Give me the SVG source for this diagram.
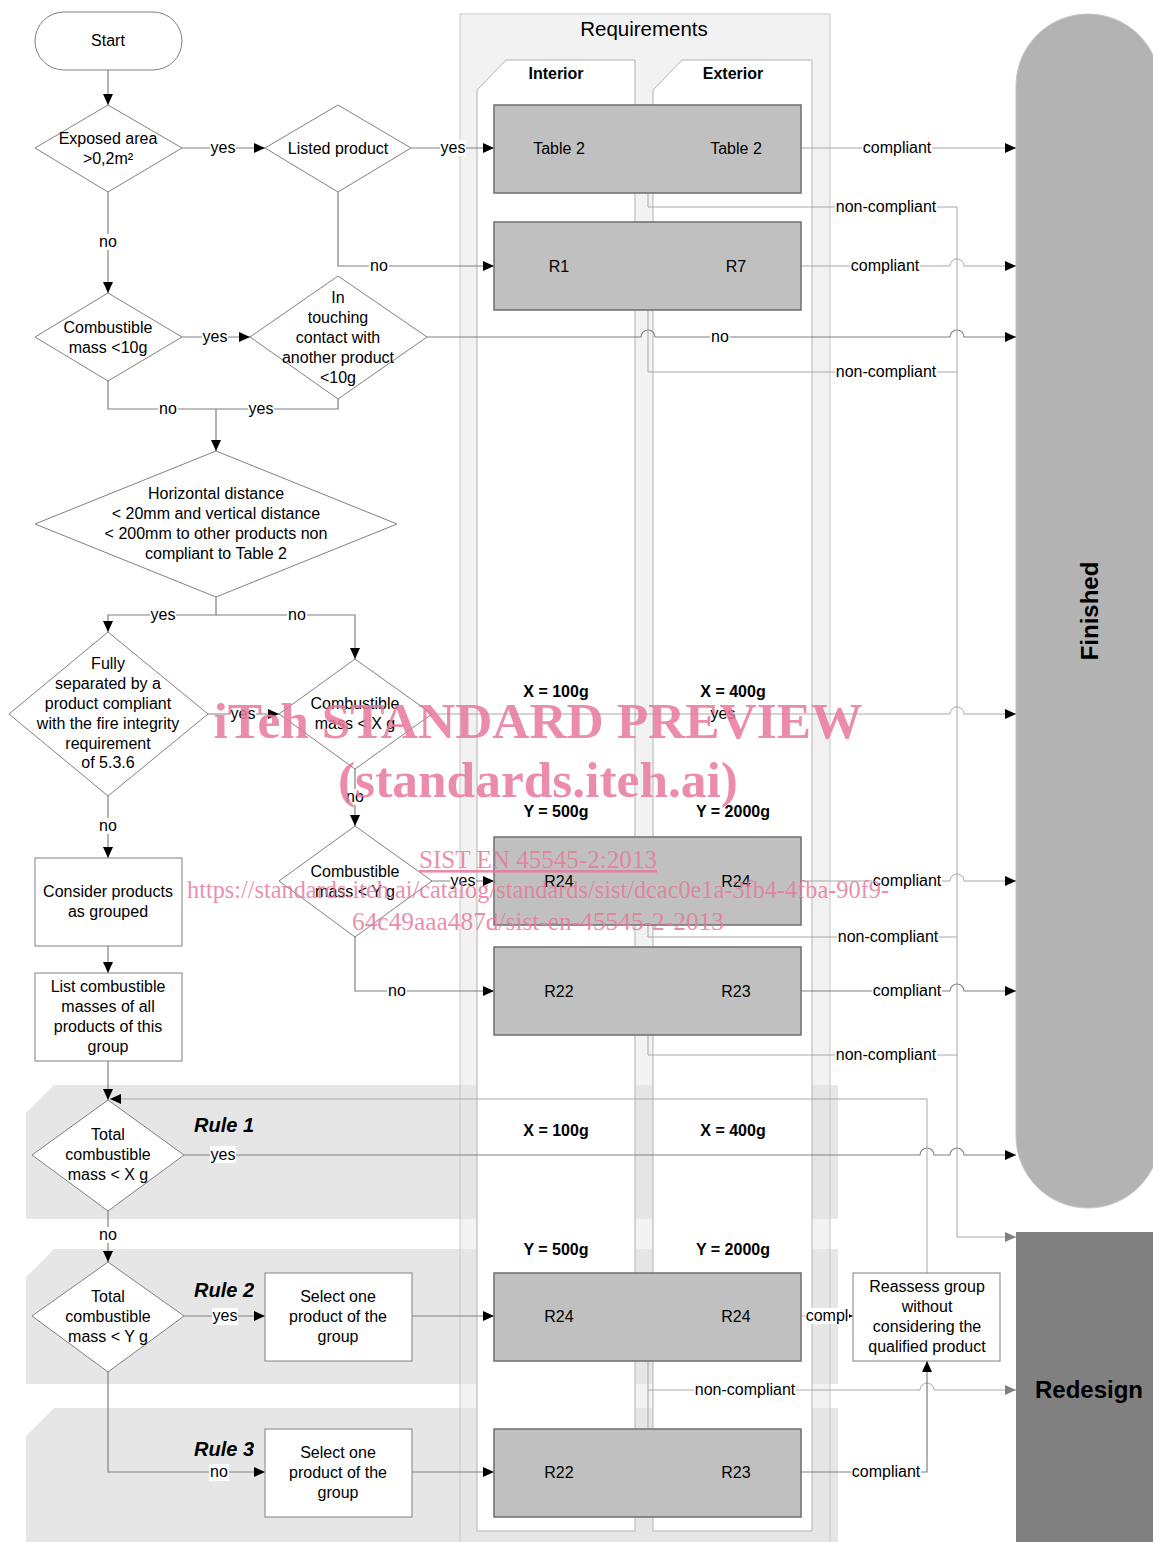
<svg xmlns="http://www.w3.org/2000/svg" width="1153" height="1542" viewBox="0 0 1153 1542">
<style>
text{font-family:"Liberation Sans",Arial,sans-serif;font-size:16px;fill:#000;text-anchor:middle}
.b{font-weight:bold}
.rule{font-weight:bold;font-style:italic;font-size:20px}
.big{font-weight:bold;font-size:24px}
.nd{fill:#fff;stroke:#808080;stroke-width:1}
.gb{fill:#c0c0c0;stroke:#6e6e6e;stroke-width:1.5}
.c{fill:none;stroke:#808080;stroke-width:1.2}
.cl{fill:none;stroke:#a8a8a8;stroke-width:1}
.lb{fill:#fff}
.wm{font-family:"Liberation Serif","Times New Roman",serif;fill:#e8799b;fill-opacity:0.85}
</style>
<defs>
<marker id="a" viewBox="0 0 11 10" refX="11" refY="5" markerWidth="11" markerHeight="10" markerUnits="userSpaceOnUse" orient="auto"><path d="M0,0L11,5L0,10z" fill="#000"/></marker>
<marker id="ag" viewBox="0 0 11 10" refX="11" refY="5" markerWidth="11" markerHeight="10" markerUnits="userSpaceOnUse" orient="auto"><path d="M0,0L11,5L0,10z" fill="#808080"/></marker>
</defs>
<rect width="1153" height="1542" fill="#fff"/>

<g id="requirements-bg">
<rect x="460" y="14" width="370" height="1540" fill="#f2f2f2"/>
</g>
<g id="rule-bands">
<path d="M26,1113L54,1085H838V1219H26Z" fill="#e6e6e6"/>
<path d="M26,1277L54,1249H838V1384H26Z" fill="#e6e6e6"/>
<path d="M26,1436L54,1408H838V1542H26Z" fill="#e6e6e6"/>
</g>
<g id="requirements">
<rect x="460" y="14" width="370" height="1540" fill="none" stroke="#c8c8c8"/>
<text x="644" y="36" style="font-size:20.5px">Requirements</text>
</g>
<g id="lane-interior">
<path d="M477,90L506,60H635V1531H477Z" fill="#fff" stroke="#b3b3b3"/>
<text class="b" x="556" y="79">Interior</text>
</g>
<g id="lane-exterior">
<path d="M653,90L682,60H812V1531H653Z" fill="#fff" stroke="#b3b3b3"/>
<text class="b" x="733" y="79">Exterior</text>
</g>
<g id="finished">
<rect x="1016" y="14" width="144" height="1194" rx="72" ry="72" fill="#b3b3b3" stroke="#c4c4c4"/>
<text class="big" transform="translate(1097.5,611) rotate(-90)">Finished</text>
</g>
<g id="redesign">
<rect x="1016" y="1232" width="144" height="320" fill="#808080"/>
<text class="big" x="1089" y="1398">Redesign</text>
</g>
<g id="rule-labels">
<text class="rule" x="224" y="1132">Rule 1</text>
<text class="rule" x="224" y="1297">Rule 2</text>
<text class="rule" x="224" y="1456">Rule 3</text>
</g>
<g id="thresholds">
<text class="b" x="556" y="697">X = 100g</text>
<text class="b" x="733" y="697">X = 400g</text>
<text class="b" x="556" y="817">Y = 500g</text>
<text class="b" x="733" y="817">Y = 2000g</text>
<text class="b" x="556" y="1136">X = 100g</text>
<text class="b" x="733" y="1136">X = 400g</text>
<text class="b" x="556" y="1255">Y = 500g</text>
<text class="b" x="733" y="1255">Y = 2000g</text>
</g>

<g id="connectors">
<path class="c" d="M108,70V105" marker-end="url(#a)"/>
<path class="c" d="M182,148H265" marker-end="url(#a)"/>
<path class="c" d="M411,148H494" marker-end="url(#a)"/>
<path class="c" d="M338,192V266H494" marker-end="url(#a)"/>
<path class="c" d="M108,192V293" marker-end="url(#a)"/>
<path class="c" d="M182,337H250" marker-end="url(#a)"/>
<path class="c" d="M427,337H641A7,7 0 0 1 655,337H950A7,7 0 0 1 964,337H1016" marker-end="url(#a)"/>
<path class="c" d="M108,381V409H338V399"/>
<path class="c" d="M216,409V451" marker-end="url(#a)"/>
<path class="c" d="M216,597V615H108V632" marker-end="url(#a)"/>
<path class="c" d="M216,615H355V659" marker-end="url(#a)"/>
<path class="c" d="M208,714H279" marker-end="url(#a)"/>
<path class="cl" d="M432,714H950A7,7 0 0 1 964,714H1016" marker-end="url(#a)"/>
<path class="c" d="M355,769V826" marker-end="url(#a)"/>
<path class="c" d="M432,881H494" marker-end="url(#a)"/>
<path class="c" d="M355,937V991H494" marker-end="url(#a)"/>
<path class="c" d="M108,796V858" marker-end="url(#a)"/>
<path class="c" d="M108,946V973" marker-end="url(#a)"/>
<path class="c" d="M108,1061V1100" marker-end="url(#a)"/>
<path class="c" d="M184,1155H920A7,7 0 0 1 934,1155H950A7,7 0 0 1 964,1155H1016" marker-end="url(#a)"/>
<path class="c" d="M108,1211V1262" marker-end="url(#a)"/>
<path class="c" d="M184,1316H265" marker-end="url(#a)"/>
<path class="c" d="M412,1316H494" marker-end="url(#a)"/>
<path class="c" d="M108,1372V1472H265" marker-end="url(#a)"/>
<path class="c" d="M412,1472H494" marker-end="url(#a)"/>

<path class="cl" d="M801,148H1016" marker-end="url(#a)"/>
<path class="cl" d="M648,193V207H957V1237H1016" marker-end="url(#ag)"/>
<path class="cl" d="M801,266H950A7,7 0 0 1 964,266H1016" marker-end="url(#a)"/>
<path class="cl" d="M648,310V372H957"/>
<path class="cl" d="M801,881H950A7,7 0 0 1 964,881H1016" marker-end="url(#a)"/>
<path class="cl" d="M648,925V937H957"/>
<path class="c" d="M801,991H950A7,7 0 0 1 964,991H1016" marker-end="url(#a)"/>
<path class="cl" d="M648,1035V1055H957"/>
<path class="cl" d="M801,1316H853" marker-end="url(#a)"/>
<path class="cl" d="M927,1273V1099H110" marker-end="url(#a)"/>
<path class="cl" d="M648,1361V1429M648,1390H920A7,7 0 0 1 934,1390H1016" marker-end="url(#ag)"/>
<path class="c" d="M801,1472H927V1361" marker-end="url(#a)"/>
</g>

<g id="connector-labels">
<rect class="lb" x="210" y="140" width="26" height="16"/><text x="223" y="153">yes</text>
<rect class="lb" x="440" y="140" width="26" height="16"/><text x="453" y="153">yes</text>
<rect class="lb" x="369" y="258" width="20" height="16"/><text x="379" y="271">no</text>
<rect class="lb" x="98" y="234" width="20" height="16"/><text x="108" y="247">no</text>
<rect class="lb" x="202" y="329" width="26" height="16"/><text x="215" y="342">yes</text>
<rect class="lb" x="710" y="329" width="20" height="16"/><text x="720" y="342">no</text>
<rect class="lb" x="158" y="401" width="20" height="16"/><text x="168" y="414">no</text>
<rect class="lb" x="248" y="401" width="26" height="16"/><text x="261" y="414">yes</text>
<rect class="lb" x="150" y="607" width="26" height="16"/><text x="163" y="620">yes</text>
<rect class="lb" x="287" y="607" width="20" height="16"/><text x="297" y="620">no</text>
<rect class="lb" x="230" y="706" width="26" height="16"/><text x="243" y="719">yes</text>
<text x="723" y="719">yes</text>
<rect class="lb" x="345" y="789" width="20" height="16"/><text x="355" y="802">no</text>
<rect class="lb" x="450" y="873" width="26" height="16"/><text x="463" y="886">yes</text>
<rect class="lb" x="387" y="983" width="20" height="16"/><text x="397" y="996">no</text>
<rect class="lb" x="98" y="818" width="20" height="16"/><text x="108" y="831">no</text>
<rect class="lb" x="210" y="1146" width="26" height="17"/><text x="223" y="1160">yes</text>
<rect class="lb" x="98" y="1227" width="20" height="16"/><text x="108" y="1240">no</text>
<rect class="lb" x="212" y="1308" width="26" height="17"/><text x="225" y="1321">yes</text>
<rect class="lb" x="209" y="1464" width="20" height="17"/><text x="219" y="1477">no</text>

<rect class="lb" x="862" y="140" width="70" height="16"/><text x="897" y="153">compliant</text>
<rect class="lb" x="835" y="199" width="102" height="16"/><text x="886" y="212">non-compliant</text>
<rect class="lb" x="850" y="258" width="70" height="16"/><text x="885" y="271">compliant</text>
<rect class="lb" x="835" y="364" width="102" height="16"/><text x="886" y="377">non-compliant</text>
<rect class="lb" x="872" y="873" width="70" height="16"/><text x="907" y="886">compliant</text>
<rect class="lb" x="837" y="929" width="102" height="16"/><text x="888" y="942">non-compliant</text>
<rect class="lb" x="872" y="983" width="70" height="16"/><text x="907" y="996">compliant</text>
<rect class="lb" x="835" y="1047" width="102" height="16"/><text x="886" y="1060">non-compliant</text>
<rect class="lb" x="805" y="1308" width="44" height="16"/><text x="827" y="1321">compl</text>
<rect class="lb" x="694" y="1382" width="102" height="16"/><text x="745" y="1395">non-compliant</text>
<rect class="lb" x="851" y="1464" width="70" height="16"/><text x="886" y="1477">compliant</text>
</g>

<g id="start"><rect class="nd" x="35" y="12" width="147" height="58" rx="29"/><text x="108" y="46">Start</text></g>
<g id="exposed-area"><path class="nd" d="M108,105L182,148L108,192L35,148Z"/><text x="108" y="144">Exposed area</text><text x="108" y="164">&gt;0,2m²</text></g>
<g id="listed-product"><path class="nd" d="M338,105L411,148L338,192L265,148Z"/><text x="338" y="154">Listed product</text></g>
<g id="combustible-10g"><path class="nd" d="M108,293L182,337L108,381L35,337Z"/><text x="108" y="333">Combustible</text><text x="108" y="353">mass &lt;10g</text></g>
<g id="touching-contact"><path class="nd" d="M338,276L427,337L338,399L250,337Z"/><text x="338" y="303">In</text><text x="338" y="323">touching</text><text x="338" y="343">contact with</text><text x="338" y="363">another product</text><text x="338" y="383">&lt;10g</text></g>
<g id="horizontal-distance"><path class="nd" d="M216,451L397,524L216,597L35,524Z"/><text x="216" y="499">Horizontal distance</text><text x="216" y="519">&lt; 20mm and vertical distance</text><text x="216" y="539">&lt; 200mm to other products non</text><text x="216" y="559">compliant to Table 2</text></g>
<g id="fully-separated"><path class="nd" d="M108,632L208,714L108,796L9,714Z"/><text x="108" y="669">Fully</text><text x="108" y="689">separated by a</text><text x="108" y="709">product compliant</text><text x="108" y="729">with the fire integrity</text><text x="108" y="749">requirement</text><text x="108" y="768">of 5.3.6</text></g>
<g id="combustible-x"><path class="nd" d="M355,659L432,714L355,769L279,714Z"/><text x="355" y="709">Combustible</text><text x="355" y="729">mass &lt; X g</text></g>
<g id="combustible-y"><path class="nd" d="M355,826L432,881L355,937L279,881Z"/><text x="355" y="877">Combustible</text><text x="355" y="897">mass &lt; Y g</text></g>
<g id="consider-grouped"><rect class="nd" x="35" y="858" width="147" height="88"/><text x="108" y="897">Consider products</text><text x="108" y="917">as grouped</text></g>
<g id="list-masses"><rect class="nd" x="35" y="973" width="147" height="88"/><text x="108" y="992">List combustible</text><text x="108" y="1012">masses of all</text><text x="108" y="1032">products of this</text><text x="108" y="1052">group</text></g>
<g id="total-x"><path class="nd" d="M108,1100L184,1155L108,1211L32,1155Z"/><text x="108" y="1140">Total</text><text x="108" y="1160">combustible</text><text x="108" y="1180">mass &lt; X g</text></g>
<g id="total-y"><path class="nd" d="M108,1262L184,1316L108,1372L32,1316Z"/><text x="108" y="1302">Total</text><text x="108" y="1322">combustible</text><text x="108" y="1342">mass &lt; Y g</text></g>
<g id="select-1"><rect class="nd" x="265" y="1273" width="147" height="88"/><text x="338" y="1302">Select one</text><text x="338" y="1322">product of the</text><text x="338" y="1342">group</text></g>
<g id="select-2"><rect class="nd" x="265" y="1429" width="147" height="88"/><text x="338" y="1458">Select one</text><text x="338" y="1478">product of the</text><text x="338" y="1498">group</text></g>
<g id="reassess"><rect class="nd" x="853" y="1273" width="147" height="88"/><text x="927" y="1292">Reassess group</text><text x="927" y="1312">without</text><text x="927" y="1332">considering the</text><text x="927" y="1352">qualified product</text></g>

<g id="req-table2"><rect class="gb" x="494" y="105" width="307" height="88"/><text x="559" y="154">Table 2</text><text x="736" y="154">Table 2</text></g>
<g id="req-r1-r7"><rect class="gb" x="494" y="222" width="307" height="88"/><text x="559" y="272">R1</text><text x="736" y="272">R7</text></g>
<g id="req-r24-a"><rect class="gb" x="494" y="837" width="307" height="88"/><text x="559" y="887">R24</text><text x="736" y="887">R24</text></g>
<g id="req-r22-a"><rect class="gb" x="494" y="947" width="307" height="88"/><text x="559" y="997">R22</text><text x="736" y="997">R23</text></g>
<g id="req-r24-b"><rect class="gb" x="494" y="1273" width="307" height="88"/><text x="559" y="1322">R24</text><text x="736" y="1322">R24</text></g>
<g id="req-r22-b"><rect class="gb" x="494" y="1429" width="307" height="88"/><text x="559" y="1478">R22</text><text x="736" y="1478">R23</text></g>

<g id="watermark">
<text class="wm" x="538" y="738" style="font-size:50px;font-weight:bold" textLength="649" lengthAdjust="spacingAndGlyphs">iTeh STANDARD PREVIEW</text>
<text class="wm" x="538" y="797" style="font-size:50px;font-weight:bold" textLength="400" lengthAdjust="spacingAndGlyphs">(standards.iteh.ai)</text>
<text class="wm" x="538" y="868" style="font-size:26px;text-decoration:underline" textLength="238" lengthAdjust="spacingAndGlyphs">SIST EN 45545-2:2013</text>
<text class="wm" x="538" y="898" style="font-size:26px" textLength="702" lengthAdjust="spacingAndGlyphs">https://standards.iteh.ai/catalog/standards/sist/dcac0e1a-3fb4-4fba-90f9-</text>
<text class="wm" x="538" y="930" style="font-size:26px" textLength="372" lengthAdjust="spacingAndGlyphs">64c49aaa487d/sist-en-45545-2-2013</text>
</g>
</svg>
